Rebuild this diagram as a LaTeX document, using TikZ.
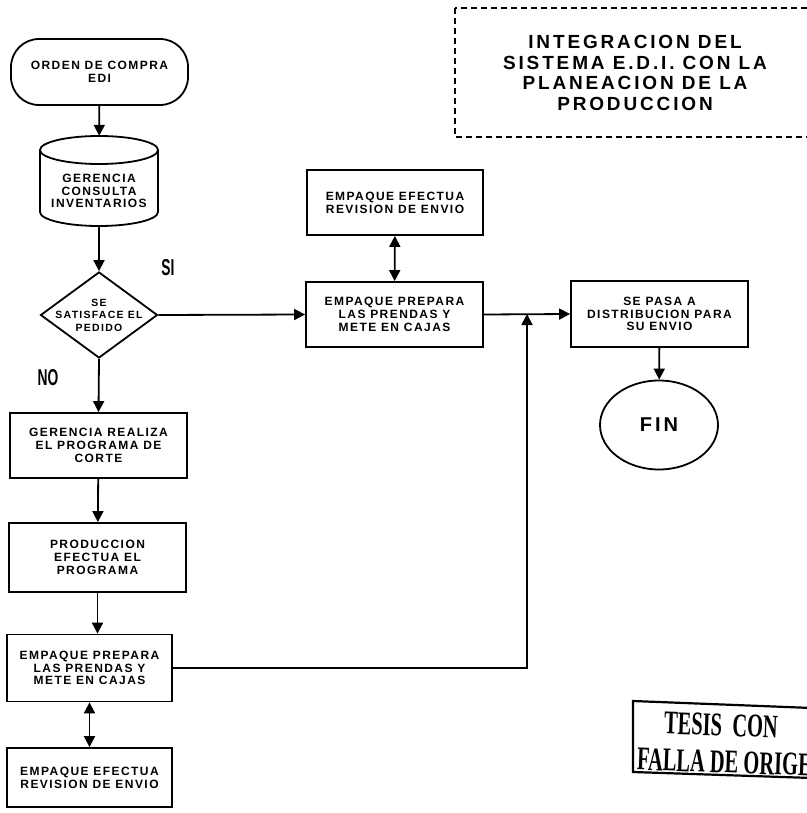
\documentclass[tikz,border=0pt]{standalone}
\usepackage{fontspec}
\setmainfont{Liberation Sans}
\newfontfamily\boxfont[LetterSpace=12]{Liberation Sans}
\newfontfamily\titlefont[LetterSpace=15]{Liberation Sans}
\newfontfamily\stampfont{Liberation Serif}
\usetikzlibrary{arrows.meta,shapes.geometric}
\tikzset{
  linea/.style={line width=1.8pt},
  proceso/.style={linea, draw, minimum width=177pt, minimum height=65pt, align=center, inner sep=1pt,
    font=\boxfont\bfseries\fontsize{12}{12.8}\selectfont},
  textocaja/.style={align=center, inner sep=0pt, font=\boxfont\bfseries\fontsize{12}{12.8}\selectfont},
  flecha/.style={linea, -{Triangle[length=11pt,width=11pt]}},
  dflecha/.style={linea, {Triangle[length=11pt,width=11pt]}-{Triangle[length=11pt,width=11pt]}},
  etiqueta/.style={inner sep=0pt, font=\bfseries\fontsize{23}{23}\selectfont},
  titulo/.style={align=center, inner sep=0pt, font=\titlefont\bfseries\fontsize{19}{20.5}\selectfont},
  sello/.style={rotate=-2, inner sep=0pt, font=\stampfont\bfseries\fontsize{33}{33}\selectfont}
}
\begin{document}
\begin{tikzpicture}[x=1pt,y=-1pt]
    \useasboundingbox (0,0) rectangle (806,813);
    \node[proceso, rounded corners=28pt, minimum height=66pt] (orden) at (99.5,72) {ORDEN DE COMPRA\\EDI};
    \node[minimum width=118pt, minimum height=90pt, inner sep=0pt] (gerinv) at (99,181) {};
    \draw[linea] (99,150) ellipse [x radius=59, y radius=14];
    \draw[linea] (40,150) -- (40,212) arc[start angle=180, end angle=0, x radius=59, y radius=14] -- (158,150);
    \node[textocaja] (gertexto) at (99,191) {GERENCIA\\CONSULTA\\INVENTARIOS};
    \node[linea, draw, diamond, minimum width=117pt, minimum height=86pt, inner sep=0pt] (decision) at (99,315) {};
    \node[textocaja, font=\boxfont\bfseries\fontsize{10.5}{12.5}\selectfont] (dectexto) at (decision) {SE\\SATISFACE EL\\PEDIDO};
    \node[etiqueta] (si) at (168,268) {\scalebox{0.6}[1]{SI}};
    \node[etiqueta] (no) at (48,378) {\scalebox{0.6}[1]{NO}};
    \node[proceso] (corte) at (98.5,445.5) {GERENCIA REALIZA\\EL PROGRAMA DE\\CORTE};
    \node[proceso, minimum height=69pt] (produc) at (97.5,557.5) {PRODUCCION\\EFECTUA EL\\PROGRAMA};
    \node[proceso, minimum width=165pt, minimum height=67pt] (empaqueA) at (89.5,668) {EMPAQUE PREPARA\\LAS PRENDAS Y\\METE EN CAJAS};
    \node[proceso, minimum width=165pt, minimum height=59pt] (revisionA) at (89.5,777.5) {EMPAQUE EFECTUA\\REVISION DE ENVIO};
    \node[proceso, minimum width=176pt] (revisionB) at (395,202.5) {EMPAQUE EFECTUA\\REVISION DE ENVIO};
    \node[proceso] (empaqueB) at (394.5,314.5) {EMPAQUE PREPARA\\LAS PRENDAS Y\\METE EN CAJAS};
    \node[proceso, minimum height=66pt] (distrib) at (659.5,314) {SE PASA A\\DISTRIBUCION PARA\\SU ENVIO};
    \node[linea, draw, ellipse, minimum width=118pt, minimum height=89pt, inner sep=0pt,
        font=\titlefont\bfseries\fontsize{20}{20}\selectfont] (fin) at (659,425) {FIN};
    \coordinate (union) at (527,314);
    \draw[flecha] (orden) -- (gerinv);
    \draw[flecha] (gerinv) -- (decision);
    \draw[flecha] (decision.east) -- (empaqueB.west);
    \draw[flecha] (decision.south) -- (corte.north);
    \draw[flecha] (corte) -- (produc);
    \draw[flecha] (produc.south) -- (produc.south |- empaqueA.north);
    \draw[dflecha] (empaqueA) -- (revisionA);
    \draw[dflecha] (revisionB) -- (empaqueB);
    \draw[flecha] (empaqueB.east) -- (distrib.west);
    \draw[flecha] (empaqueA.east) -| (union);
    \draw[flecha] (distrib) -- (fin);
    \draw[line width=1.5pt, dash pattern=on 6pt off 4pt] (455,8) rectangle (812,137);
    \node[titulo] (titulo) at (635,73) {INTEGRACION DEL\\SISTEMA E.D.I. CON LA\\PLANEACION DE LA\\PRODUCCION};
    \draw[line width=2.2pt] (812,708) -- (633,701) -- (633,772) -- (812,778);
    \node[sello] (sello1) at (721,725) {\scalebox{0.62}[1]{TESIS\ \ CON}};
    \node[sello, anchor=west] (sello2) at (637,759) {\scalebox{0.62}[1]{FALLA DE ORIGEN}};
\end{tikzpicture}
\end{document}
